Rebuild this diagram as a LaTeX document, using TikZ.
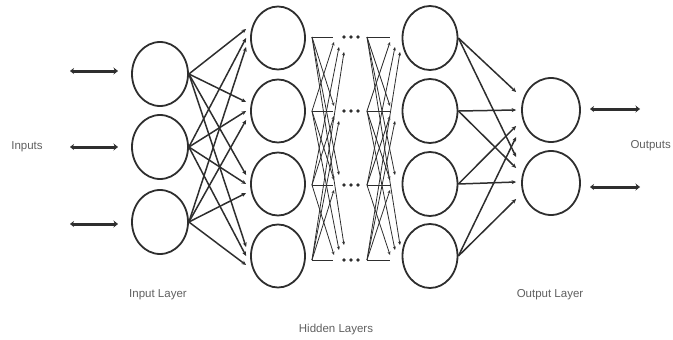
\documentclass[tikz,border=0pt]{standalone}
\usepackage{fontspec}
\setmainfont{Liberation Sans}
\usetikzlibrary{shapes.geometric,arrows.meta,calc}

\definecolor{ink}{HTML}{2E2E2E}
\definecolor{labelgray}{HTML}{606060}

\tikzset{
  neuron/.style={ellipse, draw=ink, line width=1.8pt, inner sep=0pt,
                 minimum width=56pt, minimum height=64pt},
  link/.style={draw=ink, line width=1.5pt, -{Stealth[length=4.5pt,width=4pt]}},
  thinlink/.style={draw=ink, line width=0.8pt, -{Stealth[length=3.5pt,width=3pt]}},
  ioarrow/.style={draw=ink, line width=3pt,
                  {Stealth[length=4pt,width=6pt]}-{Stealth[length=4.5pt,width=7pt]}},
  caption/.style={text=labelgray, font=\fontsize{11.5}{13}\selectfont, inner sep=0pt}
}

\begin{document}
\begin{tikzpicture}[x=1pt,y=-1pt]
  \useasboundingbox (0,0) rectangle (673,340);

  % input layer
  \foreach \i/\y in {1/74,2/147,3/222}
    \node[neuron] (in\i) at (160,\y) {};

  % first and last hidden layers
  \foreach \j/\y in {1/38,2/111,3/184,4/256} {
    \node[neuron, minimum width=54pt, minimum height=63pt] (ha\j) at (278,\y) {};
    \node[neuron, minimum width=55pt, minimum height=64pt] (hb\j) at (430,\y) {};
  }

  % output layer
  \node[neuron, minimum width=58pt] (out1) at (551,110) {};
  \node[neuron, minimum width=58pt] (out2) at (551,183) {};

  % inputs and outputs
  \foreach \i/\y in {1/71,2/147,3/224} {
    \coordinate (ia\i) at (70,\y);
    \coordinate (ib\i) at (118,\y);
    \draw[ioarrow] (ia\i) -- (ib\i);
  }
  \foreach \k/\y in {1/109,2/187} {
    \coordinate (oa\k) at (590,\y);
    \coordinate (ob\k) at (640,\y);
    \draw[ioarrow] (oa\k) -- (ob\k);
  }

  % input layer -> first hidden layer
  \foreach \i in {1,2,3}
    \foreach \j in {1,2,3,4}
      \draw[link] (in\i.east) -- ($(ha\j.west)+(-4,{(\i-2)*9})$);

  % fans between the hidden layers, with the elided layers as dots
  \foreach \k/\y in {1/37,2/111,3/185,4/260} {
    \coordinate (la\k) at (312,\y);
    \coordinate (ra\k) at (367,\y);
    \foreach \d in {0,7,14}
      \fill[ink] (344+\d,\y) circle (1.9);
  }
  \foreach \k/\yk in {1/37,2/111,3/185,4/260}
    \foreach \m/\ym in {1/37,2/111,3/185,4/260} {
      \ifnum\k=\m
        \draw[ink, line width=1pt] (la\k) -- ++(21,0);
        \draw[ink, line width=1pt] (ra\k) -- ++(23,0);
      \else
        \draw[thinlink] (la\k) -- ($(la\m)+({17+5*abs(\k-\m)},{(\k-\m)*5})$);
        \draw[thinlink] (ra\k) -- ($(ra\m)+({18+5*abs(\k-\m)},{(\k-\m)*5})$);
      \fi
    }

  % last hidden layer -> output layer
  \foreach \j/\o in {1/-18,2/0,3/16,4/27}
    \draw[link] (hb\j.east) -- ($(out1.west)+(-5,\o)$);
  \foreach \j/\o in {1/-26,2/-15,3/-1,4/16}
    \draw[link] (hb\j.east) -- ($(out2.west)+(-5,\o)$);

  % captions
  \node[caption] (inputs) at (27,147) {Inputs};
  \node[caption, anchor=east] (outputs) at (671,146) {Outputs};
  \node[caption] (inlayer) at (158,295) {Input Layer};
  \node[caption] (hidlayer) at (336,330) {Hidden Layers};
  \node[caption] (outlayer) at (550,295) {Output Layer};
\end{tikzpicture}
\end{document}
